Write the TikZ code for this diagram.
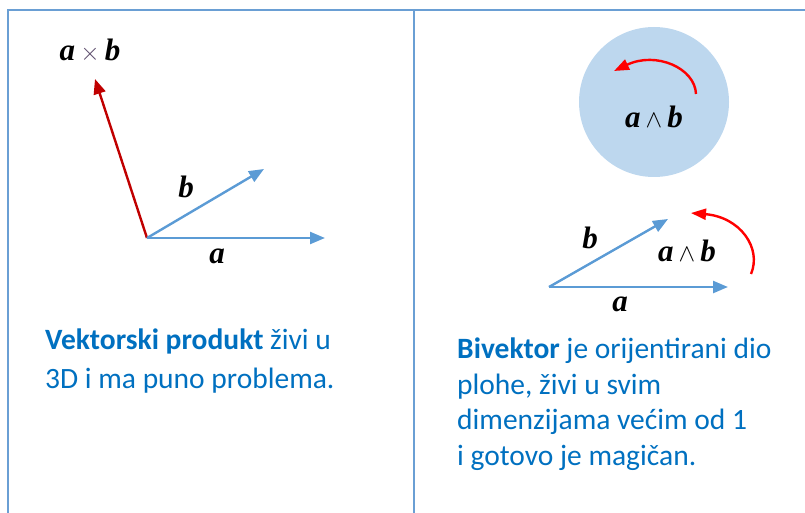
\documentclass[tikz,border=0pt]{standalone}
\usepackage{fontspec}
\setmainfont{Carlito}
\newfontfamily\lblfont{Liberation Serif}
\usetikzlibrary{arrows.meta}
\definecolor{framec}{HTML}{6A9FD4}
\definecolor{vecblue}{HTML}{5B9BD5}
\definecolor{darkred}{HTML}{C00000}
\definecolor{brightred}{HTML}{FF0000}
\definecolor{discfill}{HTML}{BDD7EE}
\definecolor{txtblue}{HTML}{0070C0}
\definecolor{opgray}{HTML}{5A4A6A}
\tikzset{
  framel/.style={draw=framec, line width=1.3pt},
  vec/.style={draw=vecblue, line width=2.4pt, -{Triangle[length=15pt,width=12pt]}},
  redvec/.style={draw=darkred, line width=2.4pt, -{Triangle[length=15pt,width=12pt]}},
  rotarc/.style={draw=brightred, line width=2.4pt, -{Triangle[length=15pt,width=11pt]}},
  mlabel/.style={inner sep=0pt, font=\lblfont\fontsize{31}{34}\selectfont\bfseries\itshape},
  para/.style={inner sep=0pt, anchor=base west, text=txtblue, font=\fontsize{29.5}{34}\selectfont},
}
\newcommand{\opx}{{\normalfont\color{opgray}$\times$}}
\newcommand{\opw}{{\normalfont$\wedge$}}
\begin{document}
\begin{tikzpicture}[x=1pt,y=-1pt]
\useasboundingbox (0,0) rectangle (805,513);
% frame
\coordinate (ftl) at (8,10);
\coordinate (ftr) at (805,10);
\coordinate (fbl) at (8,513);
\coordinate (dtop) at (414,10);
\coordinate (dbot) at (414,513);
\draw[framel] (fbl) -- (ftl) -- (ftr);
\draw[framel] (dtop) -- (dbot);
% left panel
\coordinate (o1) at (147,238);
\coordinate (cross) at (95,79);
\coordinate (b1) at (264,169);
\coordinate (a1) at (325,238);
\draw[redvec] (o1) -- (cross);
\draw[vec] (o1) -- (b1);
\draw[vec] (o1) -- (a1);
\node[mlabel] (lcross) at (90,51) {a\,\opx\,b};
\node[mlabel] (lb1) at (186,187) {b};
\node[mlabel] (la1) at (217,256) {a};
% right panel: disc
\node[circle, fill=discfill, minimum size=150pt, inner sep=0pt] (disc) at (654,102) {};
\coordinate (ds) at (696,94);
\coordinate (de) at (614,71);
\draw[rotarc] (ds) .. controls (695,68) and (656,51) .. (de);
\node[mlabel] (ldisc) at (654,117) {a\,\opw\,b};
% right panel: parallelogram vectors
\coordinate (o2) at (549,287);
\coordinate (b2) at (668,219);
\coordinate (a2) at (728,287);
\draw[vec] (o2) -- (b2);
\draw[vec] (o2) -- (a2);
\node[mlabel] (lb2) at (590,238) {b};
\node[mlabel] (la2) at (620,304) {a};
\node[mlabel] (lwedge) at (687,251) {a\,\opw\,b};
\coordinate (ws) at (751,274);
\coordinate (we) at (691,213);
\draw[rotarc] (ws) .. controls (762,248) and (740,217) .. (we);
% texts
\node[para] (t1) at (45,349.5) {\textbf{Vektorski produkt} živi u};
\node[para] (t2) at (45,388) {3D i ma puno problema.};
\node[para] (t3) at (457,358) {\textbf{Bivektor} je orijentirani dio};
\node[para] (t4) at (457,394) {plohe, živi u svim};
\node[para] (t5) at (457,429.5) {dimenzijama većim od 1};
\node[para] (t6) at (457,465) {i gotovo je magičan.};
\end{tikzpicture}
\end{document}
